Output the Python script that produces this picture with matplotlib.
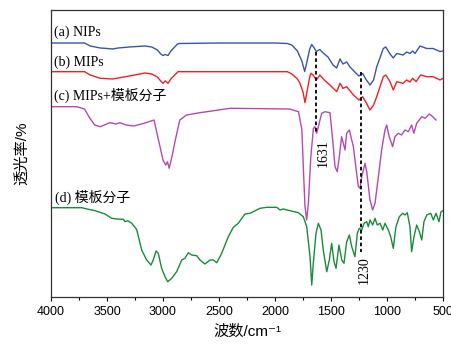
import numpy as np
import matplotlib
matplotlib.use("Agg")
import matplotlib.pyplot as plt
from matplotlib.ticker import MultipleLocator

plt.rcParams['font.family'] = ['Liberation Sans', 'Noto Sans CJK SC', 'DejaVu Sans']

# FT-IR spectra, wavenumber (cm-1) vs transmittance (a.u., stacked)
nips_w = [4000, 3700, 3650, 3560, 3500, 3450, 3400, 3300, 3160, 3100, 3050, 3020, 3000, 2980,
          2955, 2930, 2870, 2850, 2500, 2000, 1890, 1850, 1800, 1760, 1735, 1715, 1690, 1672,
          1650, 1631, 1600, 1570, 1527, 1482, 1450, 1420, 1393, 1360, 1330, 1270, 1250, 1217,
          1190, 1152, 1120, 1092, 1033, 1011, 973, 944, 913, 857, 824, 795, 771, 750, 705,
          645, 589, 527, 500]
nips_t = [254, 254, 251, 249, 248.5, 248, 249, 250, 251, 250, 247, 243, 241.5, 242.5,
          241.5, 246, 253, 253.5, 254, 254, 253.5, 252, 246, 236, 225.5, 235, 248, 252.5,
          249, 245.5, 247.5, 244, 240, 232, 229, 238, 233, 235, 230, 223, 221, 223.5,
          218, 212, 217, 230, 248.5, 250, 243, 239, 243.5, 242, 245, 243.5, 246, 243.5, 251,
          248.5, 248.5, 245.5, 246]

mips_w = [4000, 3700, 3650, 3560, 3450, 3300, 3160, 3100, 3050, 3020, 3000, 2980, 2955, 2930,
          2866, 2000, 1890, 1850, 1800, 1777, 1750, 1732, 1715, 1690, 1680, 1660, 1631, 1600,
          1560, 1510, 1449, 1420, 1393, 1360, 1300, 1250, 1217, 1180, 1152, 1120, 1092, 1033,
          1011, 973, 944, 913, 857, 824, 795, 771, 740, 700, 645, 589, 527, 500]
mips_t = [225.3, 225.3, 222, 218.7, 218, 221, 224, 223, 220, 216, 213.7, 216, 213.7, 218,
          225.3, 225.3, 225.3, 223, 218, 213.7, 205, 194.3, 205, 220, 223.7, 222, 217, 222,
          217, 212, 205.3, 213.7, 208.7, 210.3, 202, 197, 200.3, 193, 187, 192, 200.3, 220.3,
          222, 215.3, 207, 215.3, 213.7, 217, 215, 218.7, 215.3, 222, 220.3, 220.3, 217, 218.7]

mix_w = [4000, 3770, 3700, 3660, 3610, 3560, 3473, 3420, 3384, 3330, 3260, 3170, 3080, 3040,
         3000, 2975, 2960, 2945, 2920, 2890, 2850, 2790, 2670, 2400, 1870, 1790, 1760, 1745,
         1732, 1717, 1702, 1680, 1657, 1643, 1628, 1598, 1583, 1553, 1509, 1485, 1464, 1444,
         1426, 1405, 1390, 1375, 1360, 1336, 1315, 1300, 1286, 1256, 1241, 1226, 1196, 1181,
         1152, 1128, 1107, 1077, 1048, 1018, 1003, 980, 950, 929, 900, 870, 840, 810, 780,
         760, 735, 690, 660, 622, 592, 562]
mix_t = [190.3, 190.3, 188, 180, 172, 170.3, 174.3, 173, 174.3, 172, 171, 173.7, 177, 157,
         137, 132, 135.3, 128.7, 140.3, 157, 177, 182, 184.3, 188.7, 188, 185.3, 167, 124,
         90.3, 77, 94, 140.3, 168.7, 170.3, 163.7, 177, 183.7, 185.3, 184.3, 157, 130.3, 125.3,
         140.3, 160.3, 153.7, 147, 163.7, 167, 157, 150.3, 137, 110.3, 108.7, 120.3, 133.7, 125.3,
         97, 87, 93.7, 120.3, 147, 167, 172, 160.3, 150.3, 160.3, 163.7, 162, 167, 165.3, 172,
         163.7, 173.7, 180.3, 178.7, 183, 180.3, 177]

tpl_w = [4000, 3726, 3667, 3607, 3518, 3458, 3413, 3354, 3339, 3315, 3279, 3235, 3190, 3146,
         3107, 3087, 3062, 3042, 3012, 2982, 2958, 2922, 2878, 2833, 2804, 2774, 2744, 2699,
         2670, 2625, 2580, 2551, 2520, 2476, 2417, 2372, 2328, 2268, 2223, 2134, 2074, 1985,
         1955, 1926, 1866, 1792, 1747, 1717, 1687, 1672, 1658, 1634, 1613, 1589, 1569, 1538,
         1515, 1494, 1473, 1455, 1429, 1404, 1384, 1360, 1336, 1315, 1286, 1265, 1247, 1226,
         1205, 1181, 1167, 1152, 1128, 1107, 1087, 1062, 1038, 1018, 988, 967, 944, 920, 890,
         860, 839, 819, 795, 780, 759, 735, 711, 690, 670, 645, 610, 586, 562, 536, 518, 500]
tpl_t = [89.3, 89.3, 87.7, 86.3, 83, 78.7, 78, 77.7, 75.3, 76.3, 73.7, 67.5, 47, 37,
         32, 37, 46, 43.7, 28.7, 20.3, 15.3, 18.7, 25.3, 37, 38.7, 44.3, 42, 41.3,
         37, 33, 37, 37, 34.3, 43.7, 60.3, 69.7, 73.7, 83, 83.7, 88.7, 89.7, 89.7,
         87, 88, 86.3, 84.3, 80.3, 70.3, 40.3, 12, 33.7, 63.7, 73.7, 67, 47, 25.3,
         37, 53.7, 35.3, 28.7, 52, 37, 33.7, 55.3, 62, 50.3, 40.3, 63.7, 68.7, 67,
         73.7, 75.3, 70.3, 77, 72, 78.7, 72, 73.7, 67, 73.7, 67, 60.3, 48.7, 70.3, 80.3,
         83.7, 82, 84.3, 70.3, 45.3, 60.3, 72, 65.3, 57, 75.3, 82, 83.7, 77, 83.7, 75.3, 85.3, 86.3]

# marked bands: wavenumber, top and bottom of the guide line
marks = [(1631, 245.3, 163.7), (1230, 225.3, 45.3)]

serif = ['Liberation Serif', 'Noto Sans CJK SC']

fig = plt.figure(figsize=(4.52, 3.47), dpi=100)
ax = fig.add_axes([0.1128, 0.1441, 0.8673, 0.8271])

ax.plot(nips_w, nips_t, color='#3a55a8', lw=1.0)
ax.plot(mips_w, mips_t, color='#ec2128', lw=1.0)
ax.plot(mix_w, mix_t, color='#b54aaf', lw=1.0)
ax.plot(tpl_w, tpl_t, color='#1b8a3a', lw=1.0)

for w, y0, y1 in marks:
    ax.plot([w, w], [y0, y1], color='black', lw=1.3, linestyle=(0, (2, 1.5)))

ax.text(1565, 144, '1631', rotation=90, ha='center', va='center', fontsize=10, family=serif)
ax.text(1205, 27, '1230', rotation=90, ha='center', va='center', fontsize=10, family=serif)

ax.text(3975, 265, '(a) NIPs', fontsize=10, family=serif, va='center')
ax.text(3975, 235, '(b) MIPs', fontsize=10, family=serif, va='center')
ax.text(3975, 202, '(c) MIPs+模板分子', fontsize=10, family=serif, va='center')
ax.text(3965, 100, '(d) 模板分子', fontsize=10, family=serif, va='center')

ax.set_xlim(4000, 500)
ax.set_ylim(0, 287)
ax.xaxis.set_major_locator(MultipleLocator(500))
ax.xaxis.set_minor_locator(MultipleLocator(250))
ax.tick_params(axis='x', which='major', direction='out', length=3, width=0.8, labelsize=9)
ax.tick_params(axis='x', which='minor', direction='out', length=2, width=0.8)
ax.set_yticks([])
for spine in ax.spines.values():
    spine.set_linewidth(0.9)
    spine.set_color('#333333')

ax.set_xlabel('波数/cm⁻¹', fontsize=11, labelpad=5)
ax.set_ylabel('透光率/%', fontsize=11, labelpad=16)

fig.savefig('out.png', dpi=100)
